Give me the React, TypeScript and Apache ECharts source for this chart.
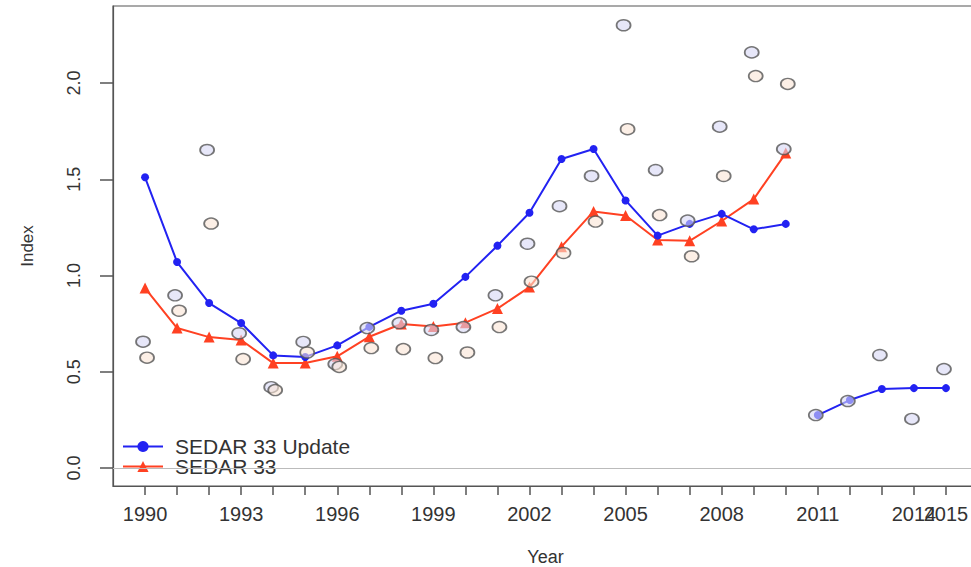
import React, { useEffect, useRef } from "react";
import * as echarts from "echarts";

// Years on the x axis
const years = [1990, 1991, 1992, 1993, 1994, 1995, 1996, 1997, 1998, 1999, 2000, 2001, 2002, 2003, 2004, 2005, 2006, 2007, 2008, 2009, 2010, 2011, 2012, 2013, 2014, 2015];
const tickYears = years;
const labelYears = [1990, 1993, 1996, 1999, 2002, 2005, 2008, 2011, 2015];
const extraLabelYears = [2014]; // drawn on an overlay axis so it is not dropped where it overlaps 2015
const yTicks = [0, 0.5, 1.0, 1.5, 2.0];

// Fitted indices
const updateA = [1.51, 1.07, 0.857, 0.753, 0.585, 0.577, 0.637, 0.733, 0.817, 0.853, 0.993, 1.155, 1.326, 1.605, 1.657, 1.39, 1.207, 1.268, 1.32, 1.24, 1.268]; // 1990-2010
const updateB = [0.275, 0.353, 0.41, 0.415, 0.415]; // 2011-2015
const sedar33 = [0.935, 0.727, 0.68, 0.665, 0.545, 0.545, 0.58, 0.682, 0.748, 0.735, 0.755, 0.828, 0.94, 1.15, 1.333, 1.312, 1.184, 1.18, 1.283, 1.397, 1.636]; // 1990-2010

// Observed indices (open circles)
const obsUpdate = [0.656, 0.897, 1.652, 0.7, 0.42, 0.655, 0.54, 0.727, 0.753, 0.717, 0.732, 0.897, 1.165, 1.36, 1.517, 2.3, 1.548, 1.285, 1.773, 2.159, 1.657, 0.275, 0.348, 0.587, 0.255, 0.514];
const obsSedar = [0.573, 0.817, 1.27, 0.566, 0.405, 0.6, 0.525, 0.623, 0.618, 0.571, 0.6, 0.732, 0.968, 1.117, 1.28, 1.76, 1.314, 1.1, 1.517, 2.036, 1.995];

const FONT = "Liberation Sans, Arial, sans-serif";
const BLUE = "#2222f2";
const RED = "#ff4122";

export default function App() {
  const ref = useRef<HTMLDivElement>(null);
  useEffect(() => {
    if (!ref.current) return;
    const chart = echarts.init(ref.current, undefined, { renderer: "svg" });
    const pairs = (vals: number[], offset: number) => vals.map((v, i) => [years[i + offset], v]);
    const xLabelStyle = {
      hideOverlap: false,
      margin: 18,
      fontSize: 20,
      color: "#333",
      fontFamily: FONT,
      formatter: (v: number) => String(v),
    };
    chart.setOption({
      animation: false,
      backgroundColor: "#ffffff",
      textStyle: { fontFamily: FONT },
      grid: {
        left: 113,
        top: 6,
        right: 12,
        bottom: 81,
        outerBoundsMode: "none",
        containLabel: false,
        show: true,
        borderColor: "#555",
        borderWidth: 1.2,
      },
      legend: {
        left: 117,
        top: 431,
        orient: "vertical",
        itemWidth: 40,
        itemHeight: 14,
        itemGap: -1,
        data: ["SEDAR 33 Update", "SEDAR 33"],
        textStyle: { fontSize: 21, color: "#333", fontFamily: FONT, padding: [0, 0, 0, 7] },
      },
      xAxis: [
        {
          type: "value",
          position: "bottom",
          min: 1989,
          max: 2016,
          name: "Year",
          nameLocation: "middle",
          nameGap: 62,
          nameTextStyle: { fontSize: 18, color: "#333", fontFamily: FONT },
          splitLine: { show: false },
          axisLine: { show: true, onZero: false, lineStyle: { color: "#555", width: 1.2 } },
          axisTick: { show: true, customValues: tickYears, length: 9, lineStyle: { color: "#555", width: 1.5 } },
          axisLabel: { ...xLabelStyle, customValues: labelYears, showMinLabel: true, showMaxLabel: true },
        },
        {
          type: "value",
          position: "bottom",
          min: 1989,
          max: 2016,
          splitLine: { show: false },
          axisLine: { show: false, onZero: false },
          axisTick: { show: false },
          axisLabel: { ...xLabelStyle, customValues: extraLabelYears, showMinLabel: true, showMaxLabel: true },
        },
      ],
      yAxis: {
        type: "value",
        min: -0.0935,
        max: 2.4,
        name: "Index",
        nameLocation: "middle",
        nameRotate: 90,
        nameGap: 77,
        nameTextStyle: { fontSize: 17, color: "#333", fontFamily: FONT },
        splitLine: { show: false },
        axisLine: { show: true, lineStyle: { color: "#555", width: 1.2 } },
        axisTick: { show: true, customValues: yTicks, length: 13, lineStyle: { color: "#555", width: 1.5 } },
        axisLabel: {
          customValues: yTicks,
          hideOverlap: false,
          rotate: 90,
          margin: 30,
          fontSize: 18,
          color: "#333",
          fontFamily: FONT,
          formatter: (v: number) => v.toFixed(1),
        },
      },
      series: [
        {
          name: "SEDAR 33 Update",
          type: "line",
          data: pairs(updateA, 0),
          symbol: "circle",
          symbolSize: 8,
          itemStyle: { color: BLUE },
          lineStyle: { color: BLUE, width: 2 },
          z: 3,
          markLine: {
            silent: true,
            symbol: ["none", "none"],
            label: { show: false },
            lineStyle: { color: "#bbbbbb", width: 1, type: "solid" },
            data: [{ yAxis: 0 }],
          },
        },
        {
          name: "SEDAR 33 Update",
          type: "line",
          data: pairs(updateB, 21),
          symbol: "circle",
          symbolSize: 8,
          itemStyle: { color: BLUE },
          lineStyle: { color: BLUE, width: 2 },
          z: 3,
        },
        {
          name: "SEDAR 33",
          type: "line",
          data: pairs(sedar33, 0),
          symbol: "triangle",
          symbolSize: 11,
          itemStyle: { color: RED },
          lineStyle: { color: RED, width: 2 },
          z: 2,
        },
        {
          name: "Observed (update)",
          type: "scatter",
          data: pairs(obsUpdate, 0),
          symbol: "circle",
          symbolSize: [14, 11],
          symbolOffset: [-2, 0],
          itemStyle: { color: "rgba(215,215,245,0.75)", borderColor: "#555", borderWidth: 1.6 },
          z: 4,
        },
        {
          name: "Observed (SEDAR 33)",
          type: "scatter",
          data: pairs(obsSedar, 0),
          symbol: "circle",
          symbolSize: [14, 11],
          symbolOffset: [2, 0],
          itemStyle: { color: "rgba(250,228,214,0.75)", borderColor: "#555", borderWidth: 1.6 },
          z: 4,
        },
      ],
    });
    return () => chart.dispose();
  }, []);
  return (
    <div style={{ position: "fixed", left: 0, top: 0, width: 971, height: 567, overflow: "hidden", background: "#fff" }}>
      <div ref={ref} style={{ width: 990, height: 567 }} />
    </div>
  );
}
